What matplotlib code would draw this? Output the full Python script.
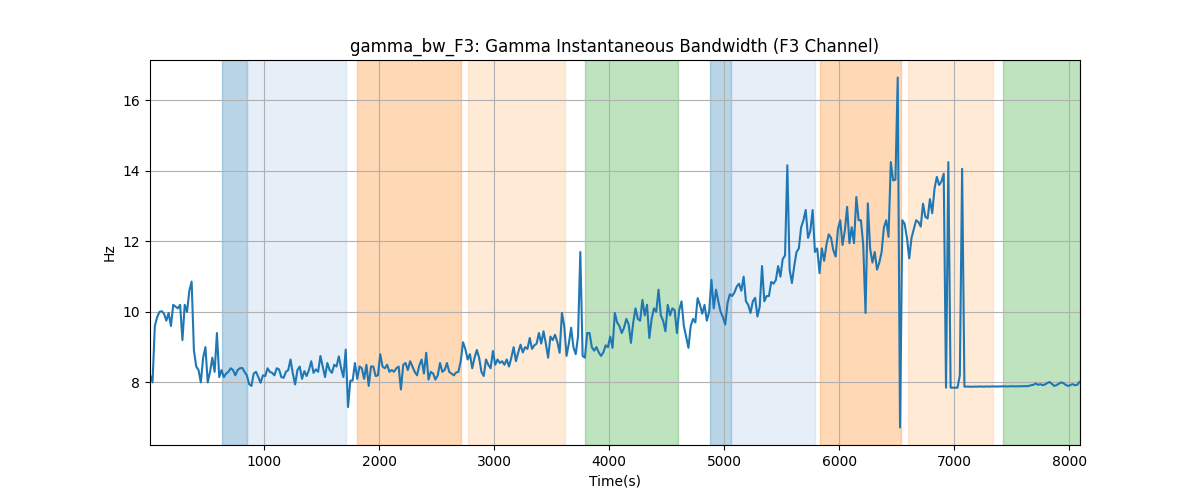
import numpy as np
import matplotlib
matplotlib.use("Agg")
import matplotlib.pyplot as plt

# ---- data ----
t_start = 8
t_step = 20

seg_a = [8.2, 8.0, 9.6, 9.85, 10.0, 10.02, 9.95, 9.75, 9.97, 9.6,
         10.2, 10.15, 10.1, 10.2, 9.2, 10.2, 10.0, 10.6, 10.86, 8.9,
         8.45, 8.35, 8.0, 8.7, 9.0, 8.0, 8.3, 8.7, 8.3, 9.4,
         8.15, 8.35, 8.15, 8.25, 8.3, 8.4, 8.35, 8.2, 8.35, 8.4,
         8.41, 8.3, 8.2, 7.95, 7.9, 8.25, 8.3, 8.15, 7.99, 8.2,
         8.18, 8.4, 8.3, 8.27, 8.2, 8.4, 8.37, 8.15, 8.13, 8.3,
         8.35, 8.65, 8.25, 7.94, 8.35, 8.45, 8.1, 8.32, 8.18, 8.35,
         8.6, 8.27, 8.37, 8.3, 8.75, 8.45, 8.15, 8.55, 8.35, 8.27,
         8.5, 8.45, 8.74, 8.4, 8.15, 8.93, 7.3]

seg_b = [8.05, 8.05, 8.55, 8.1, 8.45, 8.4, 8.1, 8.5, 7.9, 8.45,
         8.45, 8.18, 8.2, 8.8, 8.45, 8.4, 8.5, 8.3, 8.35, 8.3,
         8.4, 8.45, 7.8, 8.5, 8.55, 8.35, 8.6, 8.45, 8.3, 8.2,
         8.48, 8.65, 8.25, 8.84, 8.08, 8.3, 8.25, 8.08, 8.2, 8.55,
         8.3, 8.35, 8.55, 8.3, 8.25, 8.2, 8.28, 8.3, 8.6, 9.14,
         8.95, 8.65, 8.8, 8.4, 8.7, 8.92, 8.7, 8.3, 8.18, 8.65,
         8.5, 8.4, 8.89, 8.5, 8.65, 8.55, 8.6, 8.5, 8.65, 8.45,
         8.7, 9.0, 8.6, 8.85, 9.07, 8.85, 9.0, 8.95, 9.26, 8.95,
         9.05, 9.1, 9.4]

seg_c = [9.1, 9.45, 9.1, 8.7, 9.3, 9.2, 9.35, 9.15, 8.84, 9.97,
         9.6, 8.75, 9.1, 9.55, 9.0, 8.8, 9.3, 11.7, 8.75, 8.7,
         9.4, 9.4, 9.0, 8.9, 9.0, 8.85, 8.75, 8.85, 9.05, 9.0,
         9.3, 8.98, 9.97, 9.7, 9.6, 9.4, 9.55, 9.8, 9.65, 9.12,
         9.7, 10.1, 9.8, 9.75, 10.34, 9.9, 10.2, 9.26, 9.8, 10.1,
         10.0, 10.63, 9.9, 9.75, 9.45, 10.2, 9.9, 10.1, 10.05, 9.4,
         10.05, 10.3, 9.6, 9.3, 8.98, 9.6, 9.8, 9.7, 10.39, 10.2,
         9.95, 10.2, 9.75, 10.0, 10.91, 10.1, 10.63, 10.3, 10.0, 9.85,
         9.64, 10.25]

seg_d = [10.5, 10.45, 10.55, 10.72, 10.8, 10.6, 11.0, 10.3, 10.2, 9.97,
         10.3, 10.4, 9.87, 10.15, 11.3, 10.3, 10.45, 10.45, 10.85, 10.8,
         10.9, 11.3, 11.0, 11.5, 11.6, 14.16, 11.2, 10.82, 11.3, 11.7,
         11.8, 12.4, 12.6, 12.89, 12.1, 12.3, 12.89, 11.7, 11.8, 11.1,
         11.8, 11.45, 11.9, 12.2, 12.1, 11.75, 11.57, 12.35, 12.6, 11.9,
         12.3, 12.98, 11.95, 12.4, 11.95, 13.26, 12.6, 12.6, 11.9, 9.97,
         13.08, 11.8, 11.4, 11.7, 11.2, 11.4, 11.7, 12.4, 12.6, 12.13,
         14.25, 13.73, 13.75, 16.65, 6.72]

seg_e = [12.6, 12.5, 12.1, 11.52, 12.1, 12.35, 12.6, 12.55, 12.42, 13.07,
         12.7, 12.65, 13.2, 12.8, 13.5, 13.83, 13.6, 13.7, 13.92,
         7.85, 14.25, 7.85, 7.85, 7.85, 7.85, 8.2, 14.06, 7.88]

seg_f = [7.88, 7.88, 7.875, 7.88, 7.88, 7.88, 7.885, 7.88, 7.88, 7.885,
         7.88, 7.885, 7.885, 7.88, 7.885, 7.885, 7.89, 7.885, 7.885, 7.89,
         7.89, 7.885, 7.89, 7.89, 7.89, 7.895, 7.89]

seg_g = [7.90, 7.92, 7.93, 7.97, 7.93, 7.95, 7.92, 7.94, 7.98, 8.01,
         7.96, 7.90, 7.92, 7.96, 8.0, 7.98, 7.93, 7.90, 7.92, 7.95,
         7.92, 7.93, 8.01]

values = np.array(seg_a + seg_b + seg_c + seg_d + seg_e + seg_f + seg_g)
times = t_start + t_step * np.arange(len(values))

span_starts = [632, 850, 1806, 2771, 3789, 4876, 5058, 5833, 6595, 7424]
span_ends = [850, 1708, 2708, 3615, 4598, 5058, 5789, 6534, 7334, 8093]
span_colors = ['#1f77b4', '#aec7e8', '#ff7f0e', '#ffbb78', '#2ca02c',
               '#1f77b4', '#aec7e8', '#ff7f0e', '#ffbb78', '#2ca02c']

# ---- plot ----
fig, ax = plt.subplots(figsize=(12, 5), dpi=100)
for s, e, c in zip(span_starts, span_ends, span_colors):
    ax.axvspan(s, e, color=c, alpha=0.3)
ax.plot(times, values, color='#1f77b4', linewidth=1.5)
ax.set_xlim(6, 8093)
ax.grid(True)
ax.set_title('gamma_bw_F3: Gamma Instantaneous Bandwidth (F3 Channel)')
ax.set_xlabel('Time(s)')
ax.set_ylabel('Hz')
fig.savefig('out.png', dpi=100)
